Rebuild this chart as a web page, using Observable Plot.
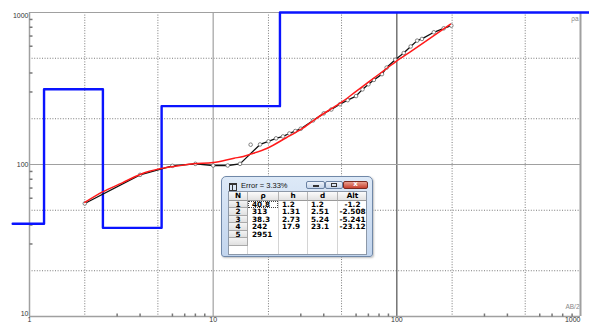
<!DOCTYPE html>
<html><head><meta charset="utf-8">
<script src="https://cdn.jsdelivr.net/npm/d3@7"></script>
<script src="https://cdn.jsdelivr.net/npm/@observablehq/plot@0.6"></script>
<style>
html,body{margin:0;padding:0;background:#fff;}
#wrap{position:relative;width:589px;height:328px;overflow:hidden;}
#win{position:absolute;left:221px;top:176px;width:152px;height:81px;box-sizing:border-box;border:1px solid #7088a8;border-radius:5px 5px 3px 3px;background:linear-gradient(#dde9f7,#c2d5ee);box-shadow:1px 1px 2px rgba(0,0,0,0.25);font-family:"Liberation Sans",sans-serif;}
#win .ttl{position:absolute;left:19px;top:4px;font-size:7.5px;line-height:9px;color:#111;white-space:nowrap;}
#win .ico{position:absolute;left:7px;top:6px;width:6px;height:5px;border:1px solid #333;border-top-width:2px;}
#win .ico:after{content:"";position:absolute;left:2px;top:0;width:1px;height:5px;background:#333;}
#win .btn{position:absolute;top:4px;height:8px;box-sizing:border-box;border:1px solid #6a82a3;border-radius:2px;background:linear-gradient(#eef3fa,#c5d5ea);}
#win .btn.cls{background:linear-gradient(#e9a08f,#c9412f);border-color:#7a2a20;}
#tbl{position:absolute;left:6px;top:14px;width:139px;height:64px;box-sizing:border-box;border:1px solid #8c98a8;background:#fff;overflow:hidden;font-family:"DejaVu Sans",sans-serif;font-weight:bold;font-size:7.3px;color:#000;}
#tbl div{position:absolute;box-sizing:border-box;white-space:nowrap;}
.hd{background:linear-gradient(#fbfbfb,#e2e2e2);border-right:1px solid #b3b3b3;border-bottom:1px solid #9a9a9a;text-align:center;}
.nc{background:linear-gradient(#f4f4f4,#e0e0e0);border-right:1px solid #a9a9a9;border-bottom:1px solid #a9a9a9;text-align:center;}
.sep{background:#d4d4d4;width:1px;}
</style></head>
<body>
<div id="wrap"><div id="chart"></div><div id="win"></div></div>
<script>
// ---- data ----
const fieldAB  = [2, 4, 6, 8, 10, 12, 14, 16, 18, 20, 22, 24, 26, 28, 30, 35, 40, 44, 49, 54, 60, 65, 70, 75, 83, 88, 98, 109, 119, 129, 137, 159, 180, 198];
const fieldRho = [55.4, 85.5, 98, 101, 98.5, 98.5, 101, 135, 135.5, 142, 148.6, 153, 160, 166, 172, 195, 217, 230, 249, 265, 282, 312, 337, 360, 393, 434, 489, 541, 598, 653, 670, 741, 787, 820];
const outlierAB = [16];
const fitAB  = [2, 2.5, 3.2, 4, 5.2, 6.5, 7.8, 10, 13, 14.6, 16, 19.7, 25, 30, 36.7, 45, 51, 60, 70, 85, 100, 120, 150, 196];
const fitRho = [56.3, 66, 75.7, 86, 94, 98, 101, 103, 110, 113, 117, 128, 150, 170, 202, 237, 261, 303, 348, 415, 481, 558, 671, 838];
const layerN   = [1, 2, 3, 4, 5];
const layerRho = [40.8, 313, 38.3, 242, 2951];
const layerH   = [1.2, 1.31, 2.73, 17.9];
const layerD   = [1.2, 2.51, 5.24, 23.1];
const layerAlt = [-1.2, -2.508, -5.241, -23.12];
const tableHeaders = ["N", "ρ", "h", "d", "Alt"];
const errorText = "Error = 3.33%";
const modelStartAB = 0.81, modelEndAB = 1120;
const xDomain = [1, 1000], yDomain = [10, 1000];
const xTickLabels = [1, 10, 100, 1000];
const yTickLabels = [10, 100, 1000];
const xGridDotted = [2, 5, 20, 50, 200, 500];
const yGridDotted = [20, 50, 200, 500];
const xMinorTicks = [3, 4, 6, 7, 8, 9, 30, 40, 60, 70, 80, 90, 300, 400, 600, 700, 800, 900];
const yMinorTicks = [30, 40, 60, 70, 80, 90, 300, 400, 600, 700, 800, 900];

// ---- derived tables ----
const field = fieldAB.map((x, i) => ({x, y: fieldRho[i]}));
const fieldLine = field.filter(d => !outlierAB.includes(d.x));
const fit = fitAB.map((x, i) => ({x, y: fitRho[i]}));
const modelX = [modelStartAB, ...layerD, modelEndAB];
const modelY = [...layerRho, layerRho[layerRho.length - 1]];
const model = modelX.map((x, i) => ({x, y: modelY[i]}));

const tickUp = {draw(ctx) { ctx.moveTo(0, 0); ctx.lineTo(0, -3); }};
const tickRight = {draw(ctx) { ctx.moveTo(0, 0); ctx.lineTo(3, 0); }};
const lbl = {fontSize: 7, fill: "#333"};

const chart = Plot.plot({
  width: 589, height: 328,
  marginLeft: 29, marginRight: 9, marginTop: 12, marginBottom: 12,
  style: {fontFamily: "Liberation Sans, sans-serif", background: "#fff"},
  x: {type: "log", domain: xDomain, axis: null},
  y: {type: "log", domain: yDomain, axis: null, clamp: true},
  marks: [
    Plot.ruleX(xGridDotted, {stroke: "#7a7a7a", strokeDasharray: "1,1.6"}),
    Plot.ruleY(yGridDotted, {stroke: "#7a7a7a", strokeDasharray: "1,1.6"}),
    Plot.ruleX([10], {stroke: "#a0a0a0", strokeWidth: 1.2}),
    Plot.ruleX([100], {stroke: "#505050", strokeWidth: 1.2}),
    Plot.ruleY([100], {stroke: "#a0a0a0", strokeWidth: 1.2}),
    Plot.ruleY([yDomain[1]], {stroke: "#a0a0a0"}),
    Plot.ruleX([xDomain[1]], {stroke: "#a0a0a0", strokeWidth: 2}),
    Plot.ruleX([xDomain[0]], {stroke: "#a0a0a0", strokeWidth: 1.5}),
    Plot.ruleY([yDomain[0]], {stroke: "#a0a0a0", strokeWidth: 1.5}),
    Plot.dot(xMinorTicks, {x: d => d, frameAnchor: "bottom", symbol: tickUp, fill: "none", stroke: "#777"}),
    Plot.dot(yMinorTicks, {y: d => d, frameAnchor: "left", symbol: tickRight, fill: "none", stroke: "#777"}),
    Plot.text(xTickLabels.filter(d => d < xDomain[1]), {x: d => d, frameAnchor: "bottom", lineAnchor: "top", dy: 1, text: d => String(d), ...lbl}),
    Plot.text(xTickLabels.filter(d => d === xDomain[1]), {x: d => d, frameAnchor: "bottom", lineAnchor: "top", textAnchor: "end", dy: 1, text: d => String(d), ...lbl}),
    Plot.text(yTickLabels.filter(d => d === yDomain[1]), {y: d => d, frameAnchor: "left", textAnchor: "end", dx: -1, dy: 3, text: d => String(d), ...lbl}),
    Plot.text(yTickLabels.filter(d => d > yDomain[0] && d < yDomain[1]), {y: d => d, frameAnchor: "left", textAnchor: "end", dx: -1, text: d => String(d), ...lbl}),
    Plot.text(yTickLabels.filter(d => d === yDomain[0]), {y: d => d, frameAnchor: "left", textAnchor: "end", dx: -1, dy: -3, text: d => String(d), ...lbl}),
    Plot.text(["AB/2"], {frameAnchor: "bottom-right", textAnchor: "end", dx: -1, dy: -8, fontSize: 6.5, fill: "#888"}),
    Plot.text(["ρa"], {frameAnchor: "top-right", textAnchor: "end", dx: -2, dy: 4, fontSize: 6.5, fill: "#888"}),
    Plot.line(model, {x: "x", y: "y", curve: "step-after", stroke: "#0a14ff", strokeWidth: 2.4}),
    Plot.line(fieldLine, {x: "x", y: "y", stroke: "#111", strokeWidth: 1.3}),
    Plot.dot(field, {x: "x", y: "y", r: 1.8, fill: "#fff", stroke: "#666", strokeWidth: 0.8}),
    Plot.line(fit, {x: "x", y: "y", curve: "monotone-x", stroke: "#ff1a1a", strokeWidth: 1.5})
  ]
});
document.getElementById("chart").appendChild(chart);

// ---- result window (table of layers) ----
const win = document.getElementById("win");
win.innerHTML = '<div class="ico"></div><div class="ttl"></div>' +
  '<div class="btn" style="left:84px;width:19px"><div style="position:absolute;left:6px;top:3px;width:6px;height:2px;background:#333"></div></div>' +
  '<div class="btn" style="left:103px;width:18px"><div style="position:absolute;left:5px;top:1px;width:6px;height:4px;border:1px solid #333;box-sizing:border-box"></div></div>' +
  '<div class="btn cls" style="left:121px;width:25px"><div style="position:absolute;left:0;width:23px;top:-2px;text-align:center;color:#fff;font:bold 7px DejaVu Sans">x</div></div>' +
  '<div id="tbl"></div>';
win.querySelector(".ttl").textContent = errorText;
const tbl = document.getElementById("tbl");
const colW = [19, 31, 29, 30, 30];
const colX = colW.map((w, i) => colW.slice(0, i).reduce((a, b) => a + b, 0));
const headH = 8.5, rowH = 7.5;
const pads = [null, 4, 3, 3, null];
function cell(cls, x, y, w, h, txt, style) {
  const d = document.createElement("div");
  if (cls) d.className = cls;
  d.style.cssText = `left:${x}px;top:${y}px;width:${w}px;height:${h}px;line-height:${h}px;` + (style || "");
  d.textContent = txt;
  tbl.appendChild(d);
  return d;
}
for (let c = 1; c < colW.length; c++) cell("sep", colX[c] - 1, headH, 1, 60, "");
tableHeaders.forEach((t, c) => cell("hd", colX[c], 0, colW[c], headH, t));
const rows = layerN.length + 1;
for (let r = 0; r < rows; r++) {
  const y = headH + r * rowH;
  cell("nc", 0, y, colW[0], rowH, r < layerN.length ? String(layerN[r]) : "");
  if (r >= layerN.length) continue;
  const vals = [layerRho[r], layerH[r], layerD[r], layerAlt[r]];
  vals.forEach((v, k) => {
    if (v === undefined) return;
    const c = k + 1;
    const st = pads[c] == null ? "text-align:center;" : `padding-left:${pads[c]}px;`;
    const d = cell("", colX[c], y, colW[c] - 1, rowH, String(v), st);
    if (r === 0 && c === 1) d.style.outline = "1px dotted #444", d.style.outlineOffset = "-1px";
  });
}
</script>
</body></html>
